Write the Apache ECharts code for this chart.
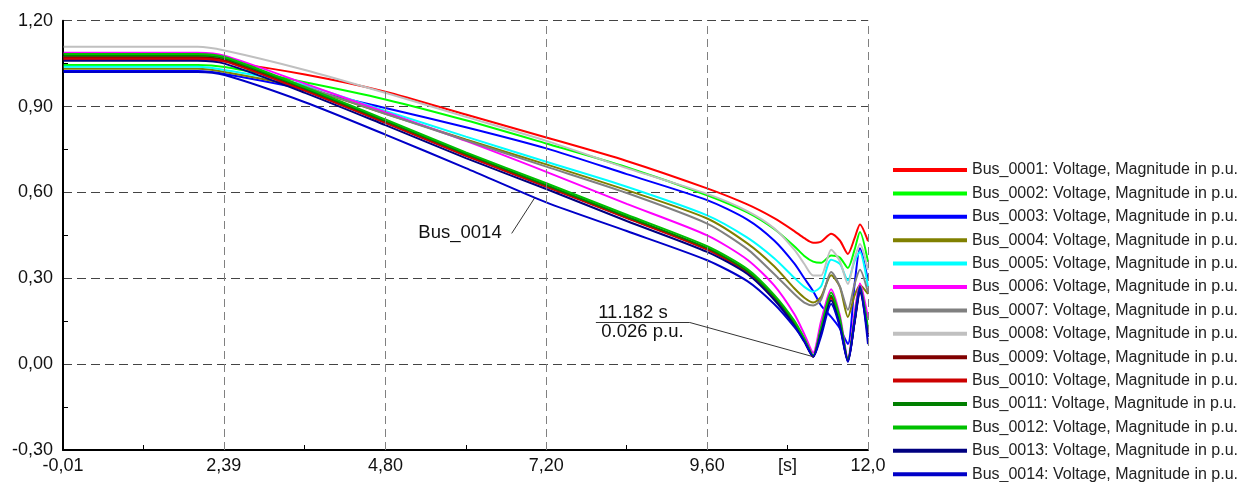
<!DOCTYPE html>
<html><head><meta charset="utf-8">
<script src="https://cdn.jsdelivr.net/npm/echarts@6.0.0/dist/echarts.min.js"></script>
<style>html,body{margin:0;padding:0;background:#fff}#c{width:1245px;height:482px}</style>
</head><body><div id="c"></div>
<script>
// ---- data (time in s, voltage magnitude in p.u.) ----
const times   = [0, 2.0, 2.4, 3.6, 4.8, 6.0, 7.2, 8.4, 9.6, 10.2, 10.6, 10.9, 11.05, 11.182, 11.3, 11.45, 11.58, 11.7, 11.8, 11.88, 12.0];
const bus0001 = [1.065, 1.065, 1.057, 1.012, 0.952, 0.872, 0.792, 0.710, 0.614, 0.558, 0.510, 0.465, 0.440, 0.424, 0.428, 0.456, 0.432, 0.385, 0.440, 0.488, 0.430];
const bus0002 = [1.045, 1.045, 1.038, 0.985, 0.925, 0.852, 0.771, 0.688, 0.590, 0.530, 0.472, 0.412, 0.378, 0.358, 0.354, 0.380, 0.372, 0.336, 0.400, 0.462, 0.358];
const bus0003 = [1.024, 1.024, 1.014, 0.960, 0.895, 0.828, 0.754, 0.664, 0.573, 0.505, 0.432, 0.352, 0.300, 0.255, 0.205, 0.165, 0.125, 0.070, 0.280, 0.405, 0.292];
const bus0004 = [1.032, 1.032, 1.021, 0.965, 0.875, 0.785, 0.698, 0.608, 0.509, 0.422, 0.342, 0.265, 0.232, 0.215, 0.235, 0.311, 0.270, 0.165, 0.240, 0.276, 0.245];
const bus0005 = [1.039, 1.039, 1.028, 0.975, 0.885, 0.795, 0.707, 0.620, 0.520, 0.442, 0.370, 0.302, 0.270, 0.253, 0.272, 0.365, 0.350, 0.293, 0.360, 0.392, 0.270];
const bus0006 = [1.088, 1.088, 1.078, 0.980, 0.880, 0.780, 0.672, 0.560, 0.450, 0.365, 0.275, 0.175, 0.105, 0.040, 0.150, 0.262, 0.170, 0.020, 0.180, 0.282, 0.160];
const bus0007 = [1.074, 1.074, 1.064, 0.970, 0.875, 0.782, 0.690, 0.598, 0.491, 0.402, 0.315, 0.245, 0.215, 0.205, 0.225, 0.322, 0.272, 0.190, 0.280, 0.330, 0.250];
const bus0008 = [1.109, 1.109, 1.096, 1.028, 0.948, 0.864, 0.780, 0.685, 0.595, 0.535, 0.475, 0.400, 0.350, 0.310, 0.310, 0.400, 0.360, 0.280, 0.370, 0.420, 0.330];
const bus0009 = [1.072, 1.072, 1.062, 0.958, 0.845, 0.730, 0.622, 0.512, 0.402, 0.322, 0.232, 0.142, 0.084, 0.027, 0.118, 0.235, 0.145, 0.012, 0.150, 0.258, 0.110];
const bus0010 = [1.068, 1.068, 1.058, 0.955, 0.843, 0.728, 0.620, 0.510, 0.400, 0.320, 0.230, 0.140, 0.082, 0.027, 0.115, 0.230, 0.142, 0.012, 0.148, 0.255, 0.105];
const bus0011 = [1.078, 1.078, 1.068, 0.963, 0.850, 0.735, 0.626, 0.516, 0.406, 0.326, 0.236, 0.146, 0.086, 0.028, 0.122, 0.240, 0.150, 0.013, 0.152, 0.262, 0.115];
const bus0012 = [1.084, 1.084, 1.073, 0.968, 0.855, 0.740, 0.632, 0.522, 0.412, 0.332, 0.242, 0.152, 0.090, 0.030, 0.128, 0.250, 0.160, 0.015, 0.160, 0.272, 0.125];
const bus0013 = [1.060, 1.060, 1.050, 0.948, 0.835, 0.720, 0.612, 0.500, 0.392, 0.315, 0.225, 0.135, 0.078, 0.026, 0.110, 0.222, 0.135, 0.010, 0.145, 0.250, 0.095];
const bus0014 = [1.021, 1.021, 1.010, 0.915, 0.802, 0.685, 0.565, 0.465, 0.363, 0.290, 0.210, 0.130, 0.080, 0.026, 0.098, 0.210, 0.130, 0.008, 0.150, 0.270, 0.070];

const seriesNames = [
  'Bus_0001: Voltage, Magnitude in p.u.', 'Bus_0002: Voltage, Magnitude in p.u.',
  'Bus_0003: Voltage, Magnitude in p.u.', 'Bus_0004: Voltage, Magnitude in p.u.',
  'Bus_0005: Voltage, Magnitude in p.u.', 'Bus_0006: Voltage, Magnitude in p.u.',
  'Bus_0007: Voltage, Magnitude in p.u.', 'Bus_0008: Voltage, Magnitude in p.u.',
  'Bus_0009: Voltage, Magnitude in p.u.', 'Bus_0010: Voltage, Magnitude in p.u.',
  'Bus_0011: Voltage, Magnitude in p.u.', 'Bus_0012: Voltage, Magnitude in p.u.',
  'Bus_0013: Voltage, Magnitude in p.u.', 'Bus_0014: Voltage, Magnitude in p.u.'
];
const xTickValues = [-0.01, 2.39, 4.80, 7.20, 9.60, 12.0];
const xTickLabels = ['-0,01', '2,39', '4,80', '7,20', '9,60', '12,0'];
const xUnitValue = 10.80;
const xUnitLabel = '[s]';
const xMinorTicks = [1.19, 3.595, 6.0, 8.4, 10.8];
const yMin = -0.30, yMax = 1.20, yStep = 0.30;
const calloutBusLabel = 'Bus_0014';
const calloutTime = 11.182;
const calloutValue = 0.026;

// ---- chart ----
const colors = ['#ff0000','#00ff00','#0000ff','#808000','#00ffff','#ff00ff','#808080','#c0c0c0','#800000','#cc0000','#007f00','#00c000','#000080','#0000c8'];
const allValues = [bus0001,bus0002,bus0003,bus0004,bus0005,bus0006,bus0007,bus0008,bus0009,bus0010,bus0011,bus0012,bus0013,bus0014];
const FONT = '"Liberation Sans", Arial, Helvetica, sans-serif';

function interp(arr, t) {
  for (let k = 0; k < times.length - 1; k++) {
    if (t >= times[k] && t <= times[k+1]) {
      const f = (t - times[k]) / (times[k+1] - times[k]);
      return arr[k] + f * (arr[k+1] - arr[k]);
    }
  }
  return arr[arr.length-1];
}

const series = allValues.map((vals, i) => ({
  name: seriesNames[i],
  type: 'line',
  data: times.map((t, k) => [t, vals[k]]),
  showSymbol: false,
  symbol: 'none',
  smooth: 0.25,
  lineStyle: { width: 2, color: colors[i] },
  itemStyle: { color: colors[i] },
  silent: true,
  z: 3
}));

// vertical dashed grid lines
series.push({
  name: 'vgrid', type: 'line', data: [], silent: true, z: 1,
  markLine: {
    silent: true, symbol: ['none', 'none'], label: { show: false },
    lineStyle: { color: '#808080', type: [8, 5], width: 1 },
    emphasis: { disabled: true },
    data: xTickValues.slice(1).map(x => ({ xAxis: x }))
  }
});

// annotations
const tipT = 7.03;
const tipV = interp(bus0014, tipT);
series.push({
  name: 'annot', type: 'line', data: [], silent: true, z: 5,
  markLine: {
    silent: true, symbol: ['none', 'none'], label: { show: false },
    emphasis: { disabled: true },
    lineStyle: { color: '#333', type: 'solid', width: 1 },
    data: [
      [{ coord: [6.684, 0.4567] }, { coord: [tipT, tipV] }],
      [{ coord: [7.94, 0.1455] }, { coord: [9.34, 0.1455] }],
      [{ coord: [9.34, 0.1455] }, { coord: [calloutTime, calloutValue] }]
    ]
  },
  markPoint: {
    silent: true, symbol: 'circle', symbolSize: 0,
    itemStyle: { color: 'rgba(0,0,0,0)' },
    label: { show: true, position: 'inside', color: '#111', fontSize: 18.5, fontFamily: FONT },
    data: [
      { coord: [5.913, 0.4577], label: { formatter: calloutBusLabel } },
      { coord: [8.494, 0.179], label: { formatter: calloutTime.toFixed(3) + ' s' } },
      { coord: [8.635, 0.1126], label: { formatter: calloutValue.toFixed(3) + ' p.u.' } }
    ]
  }
});

const option = {
  animation: false,
  backgroundColor: '#ffffff',
  grid: { left: 63, top: 20.7, width: 805, height: 429.3, containLabel: false, outerBoundsMode: 'none' },
  legend: {
    orient: 'vertical', left: 888, top: 157, height: 330, width: 360,
    itemWidth: 74, itemHeight: 4, itemGap: 7.4, icon: 'rect',
    selectedMode: false,
    data: seriesNames,
    textStyle: { fontFamily: FONT, fontSize: 16, color: '#222', lineHeight: 16 }
  },
  xAxis: {
    type: 'value', min: -0.01, max: 12.0,
    axisLine: { show: true, onZero: false, lineStyle: { color: '#000', width: 2 } },
    splitLine: { show: false },
    axisTick: { show: true, customValues: xMinorTicks, inside: true, length: 5, lineStyle: { color: '#000', width: 1 } },
    axisLabel: {
      customValues: xTickValues.concat([xUnitValue]),
      formatter: v => {
        if (Math.abs(v - xUnitValue) < 1e-6) return xUnitLabel;
        const i = xTickValues.findIndex(x => Math.abs(x - v) < 1e-6);
        return i >= 0 ? xTickLabels[i] : '';
      },
      fontSize: 18, color: '#111', margin: 7, fontFamily: FONT
    }
  },
  yAxis: {
    type: 'value', min: yMin, max: yMax, interval: yStep,
    axisLine: { show: true, onZero: false, lineStyle: { color: '#000', width: 2 } },
    axisTick: { show: false, inside: true },
    minorTick: { show: true, splitNumber: 2, length: 5, lineStyle: { color: '#000', width: 1 } },
    minorSplitLine: { show: false },
    splitLine: { show: true, lineStyle: { color: '#444', type: [9, 5], width: 1 } },
    axisLabel: {
      formatter: v => v.toFixed(2).replace('.', ','),
      fontSize: 18, color: '#111', margin: 10, fontFamily: FONT
    }
  },
  series: series
};

const chart = echarts.init(document.getElementById('c'), null, { renderer: 'canvas' });
chart.setOption(option);
</script>
</body></html>
